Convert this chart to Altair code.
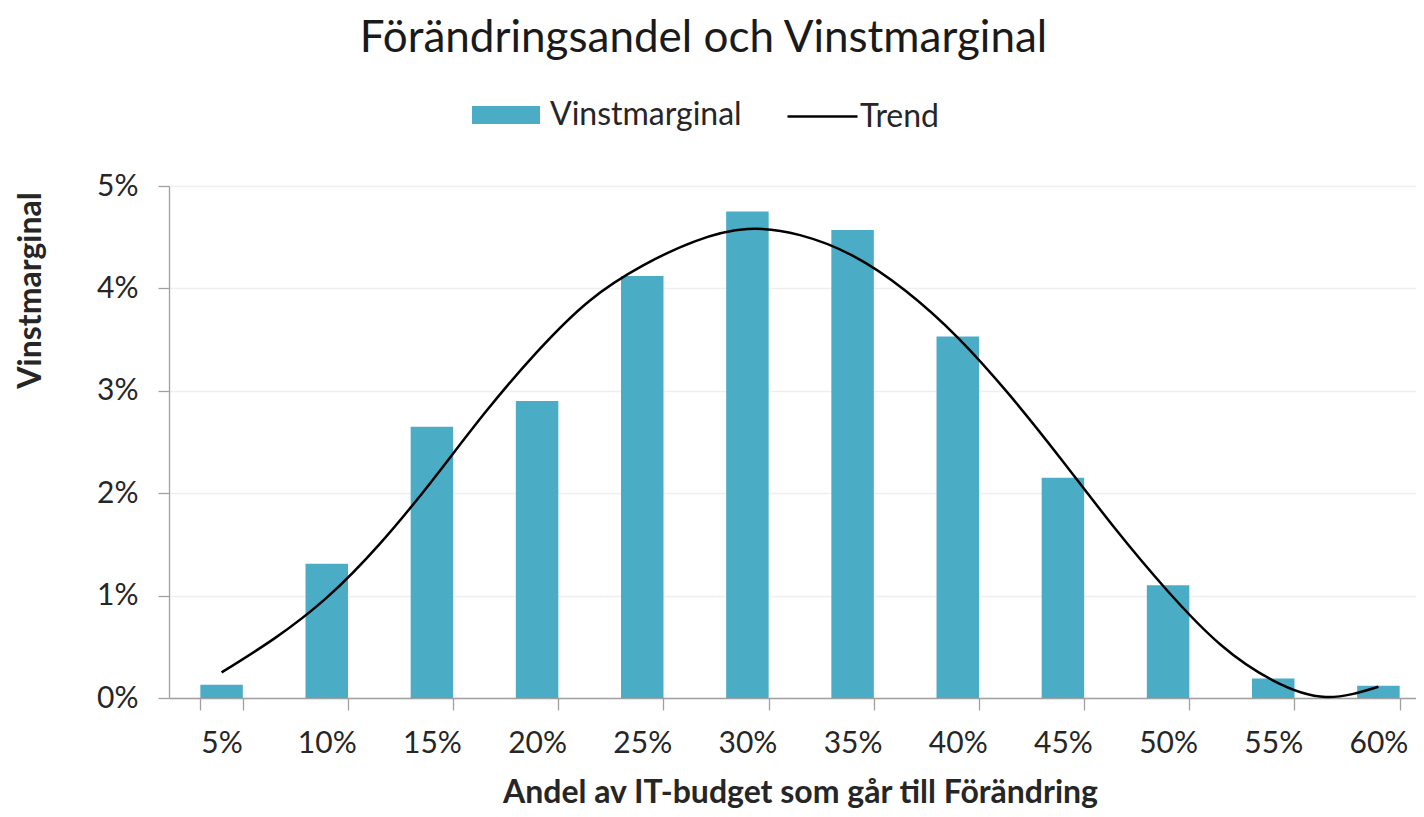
import altair as alt
import pandas as pd

categories = ['5%', '10%', '15%', '20%', '25%', '30%', '35%', '40%', '45%', '50%', '55%', '60%']
vinstmarginal = [0.13, 1.31, 2.65, 2.90, 4.12, 4.75, 4.57, 3.53, 2.15, 1.10, 0.19, 0.12]

trend_x = [5, 7.5, 10, 12.5, 15, 17.5, 20, 22.5, 25, 27.5, 30, 32.5, 35, 37.5, 40,
           42.5, 45, 47.5, 50, 52.5, 55, 57.5, 60]
trend_y = [0.25, 0.58, 0.98, 1.50, 2.12, 2.78, 3.38, 3.88, 4.22, 4.46, 4.58, 4.52, 4.32, 3.98, 3.52,
           2.95, 2.31, 1.65, 1.04, 0.52, 0.17, 0.01, 0.11]

y_ticks = [0, 1, 2, 3, 4, 5]

BAR = '#4BACC6'
TXT = '#262626'
AX = '#a0a0a0'
FONT = 'Lato'

df_bars = pd.DataFrame({'cat': categories, 'val': vinstmarginal, 's': 'Vinstmarginal'})
df_trend = pd.DataFrame({'x': trend_x, 'v': trend_y, 's': 'Trend'})

RANGE = [0, 1262]

bars = alt.Chart(df_bars).mark_bar().encode(
    x=alt.X('cat:N', sort=categories,
            scale=alt.Scale(range=RANGE, paddingInner=0.596, paddingOuter=0.298),
            axis=alt.Axis(title='Andel av IT-budget som går till Förändring', labelAngle=0,
                          tickBand='extent', tickSize=12, tickColor=AX, domainColor=AX,
                          domainWidth=1.3, tickWidth=1.3, labelPadding=18,
                          labelFont=FONT, labelFontSize=30, labelColor=TXT,
                          titleFont=FONT, titleFontSize=32, titleFontWeight='bold', titleColor=TXT,
                          titleX=631, titleY=104, titleBaseline='alphabetic', grid=False)),
    y=alt.Y('val:Q', scale=alt.Scale(domain=[0, 5], nice=False),
            axis=alt.Axis(title='Vinstmarginal', values=y_ticks, labelExpr="datum.value + '%'",
                          tickSize=11, tickColor=AX, domainColor=AX, domainWidth=1.3, tickWidth=1.3,
                          labelPadding=20, labelFont=FONT, labelFontSize=30, labelColor=TXT,
                          gridColor='#efefef', gridWidth=1.3,
                          titleFont=FONT, titleFontSize=32, titleFontWeight='bold', titleColor=TXT,
                          titleAngle=-90, titleX=-139, titleY=104, titleAlign='center',
                          titleBaseline='middle')),
    fill=alt.Fill('s:N', scale=alt.Scale(domain=['Vinstmarginal'], range=[BAR]),
                  legend=alt.Legend(orient='none', legendX=303, legendY=-105, title=None,
                                    symbolType='M-1,-0.265H1V0.265H-1Z', symbolSize=4624,
                                    symbolStrokeWidth=0, labelFont=FONT, labelFontSize=32,
                                    labelColor=TXT, labelOffset=10, labelLimit=500, padding=0)),
)

line = alt.Chart(df_trend).mark_line(interpolate='natural', strokeWidth=2.5).encode(
    x=alt.X('x:Q', scale=alt.Scale(domain=[2.5, 62.5], range=RANGE, nice=False, zero=False),
            axis=alt.Axis(orient='top', title='Förändringsandel och Vinstmarginal',
                          labels=False, ticks=False, domain=False, grid=False,
                          titleX=534, titleY=-135, titleAlign='center', titleBaseline='alphabetic',
                          titleAngle=0, titleFont=FONT, titleFontSize=44, titleFontWeight='normal',
                          titleColor='#1a1a1a')),
    y=alt.Y('v:Q'),
    stroke=alt.Stroke('s:N', scale=alt.Scale(domain=['Trend'], range=['black']),
                      legend=alt.Legend(orient='none', legendX=617, legendY=-106, title=None,
                                        symbolSize=4900, symbolStrokeWidth=2.5,
                                        labelFont=FONT, labelFontSize=32, labelColor=TXT,
                                        labelOffset=1, labelLimit=500, padding=0)),
)

chart = alt.layer(bars, line).resolve_scale(x='independent').properties(
    width=1247, height=512,
    autosize=alt.AutoSizeParams(type='none'),
    padding={'left': 161, 'top': 178, 'right': 0, 'bottom': 111},
).configure_view(stroke=None)

chart.save('out.html', embed_options={'renderer': 'svg', 'actions': False})
